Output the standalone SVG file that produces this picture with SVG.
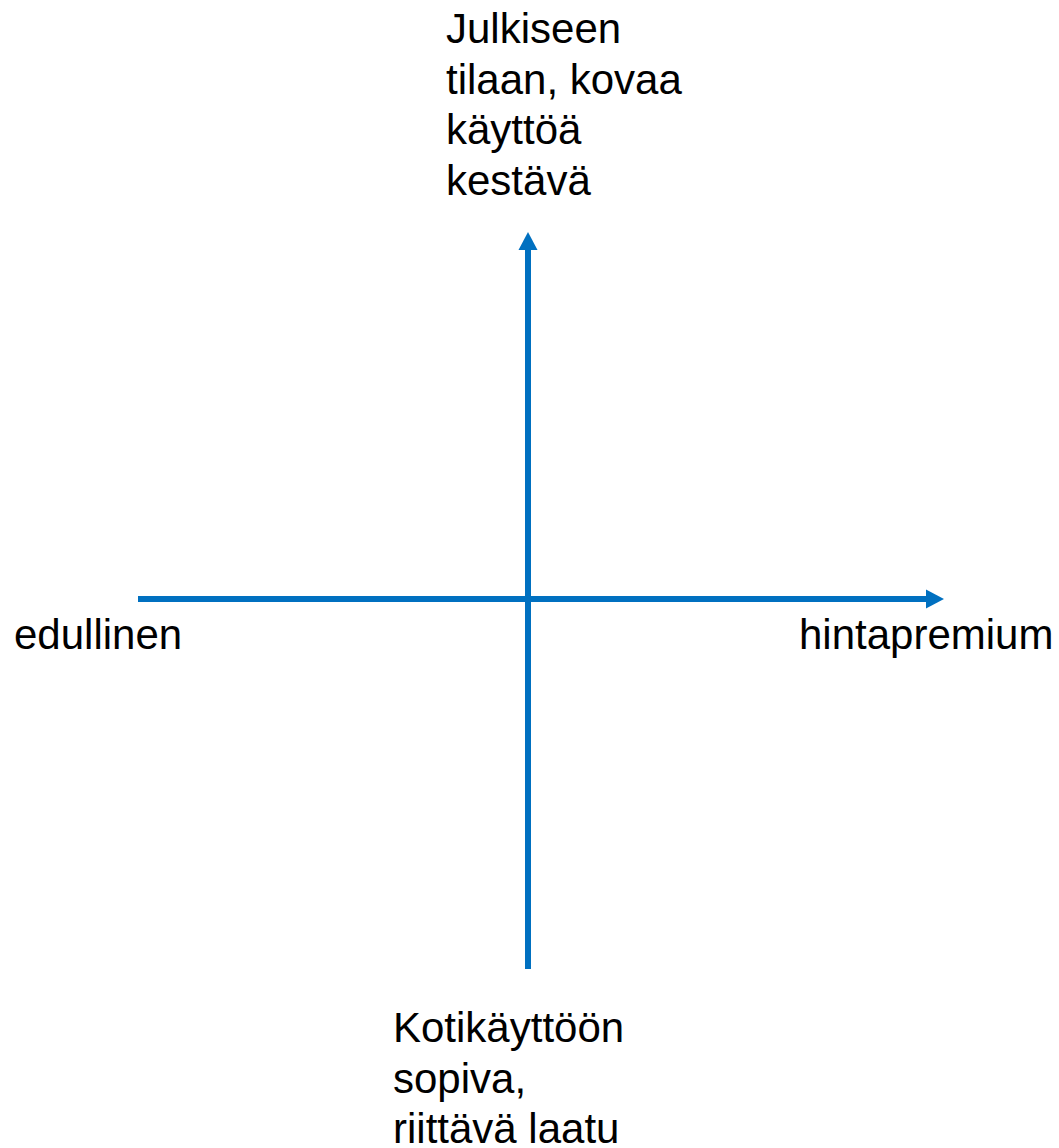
<svg xmlns="http://www.w3.org/2000/svg" width="1059" height="1148" viewBox="0 0 1059 1148">
<style>
.t{font-family:"Liberation Sans",Arial,sans-serif;font-size:42px;fill:#000}
.ax{stroke:#0070C0;stroke-width:6;fill:none}
</style>
<defs>
<marker id="ah" markerUnits="userSpaceOnUse" markerWidth="20" markerHeight="20" viewBox="0 0 20 20" refX="1" refY="10" orient="auto">
<path d="M0,0.5 L18,10 L0,19.5 Z" fill="#0070C0"/>
</marker>
</defs>
<rect width="1059" height="1148" fill="#fff"/>
<g id="connectors">
<line class="ax" x1="138" y1="599" x2="927" y2="599" marker-end="url(#ah)"/>
<line class="ax" x1="528" y1="969" x2="528" y2="249" marker-end="url(#ah)"/>
</g>
<g id="top">
<text class="t" x="446" y="43"><tspan x="446">Julkiseen</tspan><tspan x="446" dy="50.5">tilaan, kovaa</tspan><tspan x="446" dy="50.5">käyttöä</tspan><tspan x="446" dy="50.5">kestävä</tspan></text>
</g>
<g id="left"><text class="t" x="14" y="649">edullinen</text></g>
<g id="right"><text class="t" x="799" y="649">hintapremium</text></g>
<g id="bottom">
<text class="t" x="393" y="1042"><tspan x="393">Kotikäyttöön</tspan><tspan x="393" dy="50.5">sopiva,</tspan><tspan x="393" dy="50.5">riittävä laatu</tspan></text>
</g>
</svg>
